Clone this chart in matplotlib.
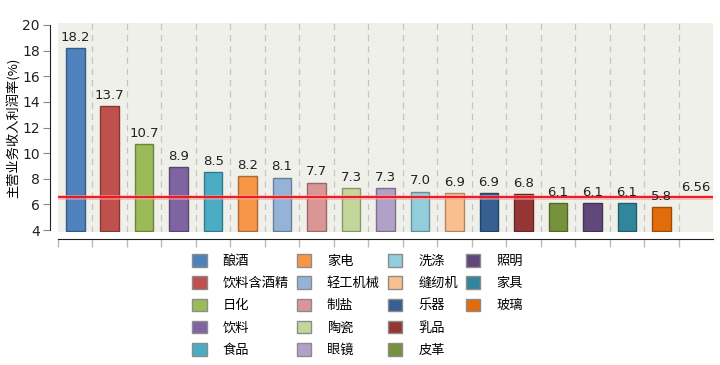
import numpy as np
import matplotlib
matplotlib.use("Agg")
import matplotlib.pyplot as plt
from matplotlib.patches import Patch
from matplotlib.colors import to_rgb

plt.rcParams["font.family"] = ["DejaVu Sans", "Noto Sans CJK SC"]

# ---------------------------------------------------------------------------
# Data
# ---------------------------------------------------------------------------
industries = ["酿酒", "饮料含酒精", "日化", "饮料", "食品", "家电", "轻工机械",
              "制盐", "陶瓷", "眼镜", "洗涤", "缝纫机", "乐器", "乳品", "皮革",
              "照明", "家具", "玻璃"]
margins = [18.2, 13.7, 10.7, 8.9, 8.5, 8.2, 8.1, 7.7, 7.3, 7.3, 7.0, 6.9,
           6.9, 6.8, 6.1, 6.1, 6.1, 5.8]
average = 6.56
colors = ["#4F81BD", "#C0504D", "#9BBB59", "#8064A2", "#4BACC6", "#F79646",
          "#95B3D7", "#DA9694", "#C4D79B", "#B1A0C7", "#92CDDC", "#FABF8F",
          "#366092", "#963634", "#76933C", "#60497A", "#31869B", "#E26B0A"]
ylabel = "主营业务收入利润率(%)"


def darker(c, f=0.7):
    r, g, b = to_rgb(c)
    return (r * f, g * f, b * f)


fig = plt.figure(figsize=(7.2, 3.65), dpi=100)
ax = fig.add_axes([58 / 720, 133 / 365, 655 / 720, 209 / 365])
ax.set_facecolor("#F0F0EA")

x = np.arange(len(industries))
ax.bar(x, np.array(margins) - 3.92, bottom=3.92, width=0.54, color=colors,
       edgecolor=[darker(c) for c in colors], linewidth=1.0, zorder=3)

# average line with soft halo
ax.axhline(average, color="#FF9A9A", lw=3.5, alpha=0.6, zorder=4)
ax.axhline(average, color="#E8101A", lw=1.3, zorder=5)

for xi, v in zip(x, margins):
    ax.annotate(f"{v:.1f}", (xi, v), xytext=(0, 3), textcoords="offset points",
                ha="center", va="bottom", fontsize=9.5, color="#222222",
                zorder=6)
ax.annotate(f"{average:.2f}", (len(industries), average), xytext=(0, 2),
            textcoords="offset points", ha="center", va="bottom",
            fontsize=9.5, color="#222222", zorder=6)

ax.set_xlim(-0.5, len(industries) + 0.5)
ax.set_ylim(3.85, 20.15)

# dashed vertical separators
for b in np.arange(0.5, len(industries), 1.0):
    ax.axvline(b, color="#C4C4C4", ls=(0, (5, 4)), lw=0.9, zorder=1)

ax.set_xticks(np.arange(-0.5, len(industries), 1.0))
ax.set_xticklabels([])
ax.tick_params(axis="x", length=6, color="#BBBBBB", width=1)
ax.set_yticks(np.arange(4, 21, 2))
ax.tick_params(axis="y", length=5, color="#888888", labelsize=10,
               labelcolor="#222222", pad=2)

for s in ["top", "right"]:
    ax.spines[s].set_visible(False)
ax.spines["left"].set_position(("outward", 6))
ax.spines["left"].set_bounds(4, 20)
ax.spines["bottom"].set_position(("outward", 5))
ax.spines["left"].set_color("#222222")
ax.spines["bottom"].set_color("#222222")

ax.set_ylabel(ylabel, fontsize=9.5, family=["Noto Sans CJK SC", "DejaVu Sans"],
              labelpad=1)

# legend: 5 rows, column-major; pad the last column with two empty slots
handles = [Patch(facecolor=c, edgecolor="#8C8C8C", lw=1.0) for c in colors]
labels = list(industries)
for _ in range(2):
    handles.append(Patch(visible=False))
    labels.append("")
fig.legend(handles, labels, loc="upper left",
           bbox_to_anchor=(192 / 720, 1 - 254 / 365), ncol=4, frameon=False,
           prop={"family": ["Noto Sans CJK SC", "DejaVu Sans"], "size": 9.5},
           handlelength=1.1, handleheight=1.1, handletextpad=1.2,
           columnspacing=0.6, labelspacing=0.64, borderpad=0,
           borderaxespad=0)

fig.savefig("out.png", dpi=100)
